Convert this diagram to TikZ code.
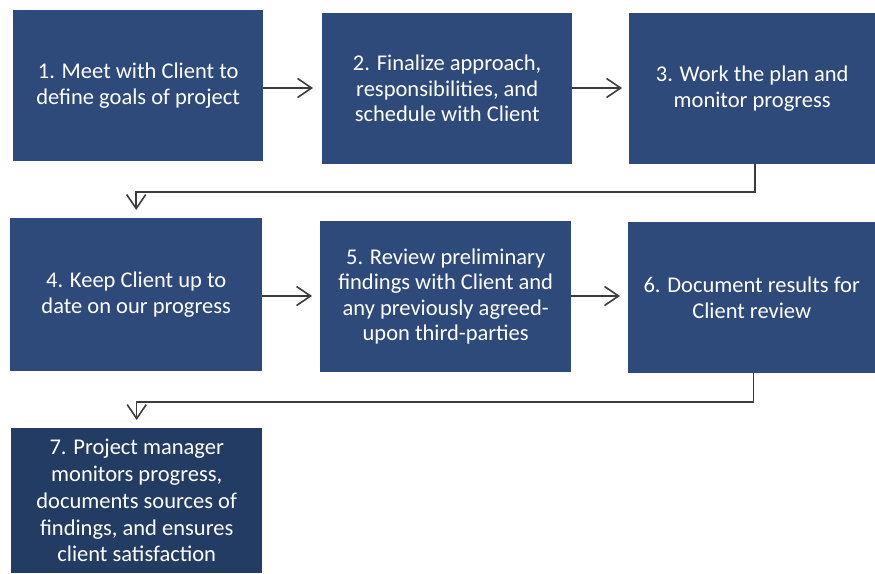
\documentclass[tikz,border=0pt]{standalone}
\usepackage{fontspec}
\setmainfont{Carlito}
\usetikzlibrary{arrows.meta}
\definecolor{boxblue}{HTML}{2D4A7A}
\definecolor{boxdark}{HTML}{223C64}
\definecolor{linegray}{HTML}{3C3C3C}
\tikzset{
  stepbox/.style={rectangle, fill=boxblue, draw=none, text=white, anchor=north west,
    align=center, inner sep=0pt, font=\fontsize{22.5}{25.5}\selectfont},
  flow/.style={draw=linegray, line width=1.5pt,
    -{Straight Barb[length=14pt,width=19pt,line width=1.6pt]}},
}
\begin{document}
\begin{tikzpicture}[x=1pt,y=-1pt]
\useasboundingbox (0,0) rectangle (875,573);
\fill[white] (0,0) rectangle (875,573);
\node[stepbox, minimum width=250pt, minimum height=151pt] (b1) at (13,10)
  {1. Meet with Client to\\define goals of project};
\node[stepbox, minimum width=250pt, minimum height=151pt] (b2) at (322,13)
  {2. Finalize approach,\\responsibilities, and\\schedule with Client};
\node[stepbox, minimum width=246pt, minimum height=151pt] (b3) at (629,13)
  {3. Work the plan and\\monitor progress};
\node[stepbox, minimum width=252pt, minimum height=153pt] (b4) at (10,218)
  {4. Keep Client up to\\date on our progress};
\node[stepbox, minimum width=251pt, minimum height=151pt] (b5) at (320,221)
  {5. Review preliminary\\findings with Client and\\any previously agreed-\\upon third-parties};
\node[stepbox, minimum width=247pt, minimum height=151pt] (b6) at (628,222)
  {6. Document results for\\Client review};
\node[stepbox, fill=boxdark, minimum width=251pt, minimum height=145pt,
  font=\fontsize{22.5}{26.8}\selectfont] (b7) at (11,428)
  {7. Project manager\\monitors progress,\\documents sources of\\findings, and ensures\\client satisfaction};
\draw[flow, shorten >=9pt] (b1.east |- 0,88) -- (b2.west |- 0,88);
\draw[flow, shorten >=7pt] (b2.east |- 0,88) -- (b3.west |- 0,88);
\draw[flow, shorten >=8pt] (b4.east |- 0,296) -- (b5.west |- 0,296);
\draw[flow, shorten >=8pt] (b5.east |- 0,296) -- (b6.west |- 0,296);
\draw[flow, shorten >=8pt] ([xshift=3pt]b3.south) |- (b4.north |- 0,192) -- (b4.north);
\draw[flow, shorten >=8pt] ([xshift=2pt]b6.south) |- (b7.north |- 0,402) -- (b7.north);
\end{tikzpicture}
\end{document}
